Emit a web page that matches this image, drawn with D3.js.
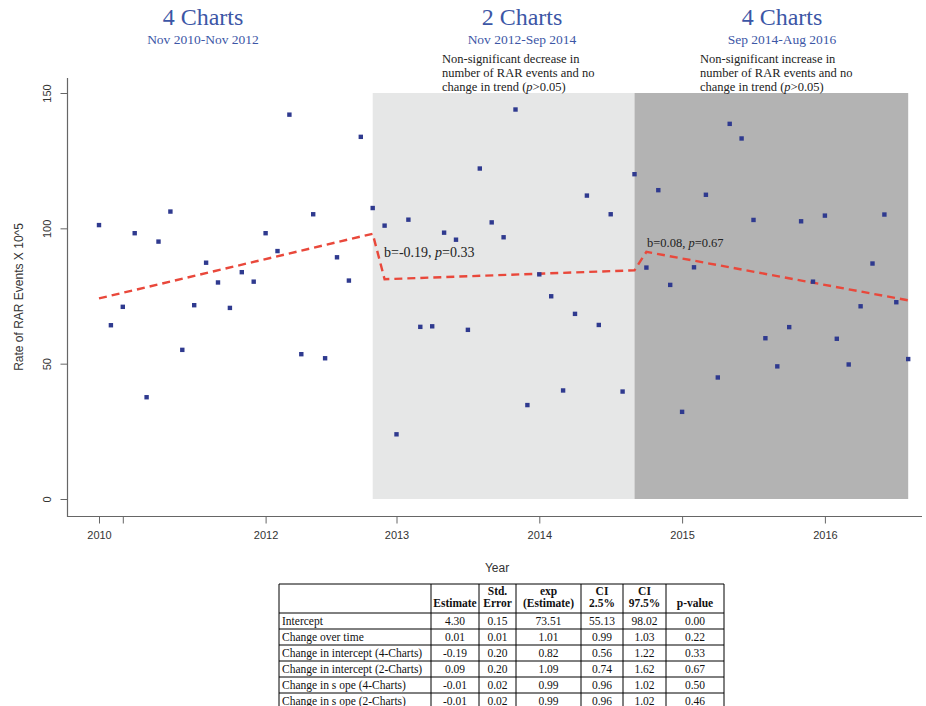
<!DOCTYPE html>
<html>
<head>
<meta charset="utf-8">
<script src="https://cdn.jsdelivr.net/npm/d3@7"></script>
<style>
  body { margin: 0; background: #fff; }
  svg { display: block; }
</style>
</head>
<body>
<div id="chart"></div>
<script>
// monthly rate of RAR events x 10^5 (month index 0 = Nov 2010)
const rates = [
  101.2, 64.2, 71.0, 98.2, 37.6, 95.1, 106.2, 55.1, 71.6, 87.3, 80.0, 70.6,
  83.8, 80.3, 98.2, 91.6, 142.0, 53.5, 105.2, 52.0, 89.3, 80.7, 133.8, 107.5,
  101.0, 23.9, 103.2, 63.6, 63.8, 98.4, 95.8, 62.5, 122.1, 102.2, 96.7, 143.9,
  34.7, 83.0, 74.9, 40.1, 68.4, 112.1, 64.3, 105.2, 39.7, 120.0,
  85.5, 114.1, 79.1, 32.2, 85.6, 112.4, 44.9, 138.6, 133.2, 103.1, 59.4, 49.0,
  63.5, 102.6, 80.3, 104.7, 59.2, 49.7, 71.2, 87.0, 105.1, 72.7, 51.7
]
// fitted segmented regression (start/end month, start/end value)
const trendMonths = [[0, 23], [24, 45], [46, 68]]
const trendValues = [[74.1, 98.0], [81.2, 84.5], [91.3, 73.4]]
// shaded periods
const shadeMonths = [[23, 45], [45, 68]]
const shadeColors = ["#e6e7e7", "#b3b3b3"]

const xTickMonths = [0, 2, 14, 25, 37, 49, 61]
const xTickLabels = ["2010", "", "2012", "2013", "2014", "2015", "2016"]
const yTicks = [0, 50, 100, 150]

const periodTitles = ["4 Charts", "2 Charts", "4 Charts"]
const periodDates = ["Nov 2010-Nov 2012", "Nov 2012-Sep 2014", "Sep 2014-Aug 2016"]
const notes = [
  ["Non-significant decrease in", "number of RAR events and no", "change in trend"],
  ["Non-significant increase in", "number of RAR events and no", "change in trend"]
]
const trendLabels = [["b=-0.19, ", "0.33"], ["b=0.08, ", "0.67"]]

const tableHead = [["", ""], ["", "Estimate"], ["Std.", "Error"], ["exp", "(Estimate)"], ["CI", "2.5%"], ["CI", "97.5%"], ["", "p-value"]]
const rowLabels = ["Intercept", "Change over time", "Change in intercept (4-Charts)",
  "Change in intercept (2-Charts)", "Change in s ope (4-Charts)", "Change in s ope (2-Charts)"]
const estimate = ["4.30", "0.01", "-0.19", "0.09", "-0.01", "-0.01"]
const stdError = ["0.15", "0.01", "0.20", "0.20", "0.02", "0.02"]
const expEst = ["73.51", "1.01", "0.82", "1.09", "0.99", "0.99"]
const ciLow = ["55.13", "0.99", "0.56", "0.74", "0.96", "0.96"]
const ciHigh = ["98.02", "1.03", "1.22", "1.62", "1.02", "1.02"]
const pValue = ["0.00", "0.22", "0.33", "0.67", "0.50", "0.46"]

const width = 926
const height = 706
const serif = "'Liberation Serif', 'DejaVu Serif', serif"
const sans = "'Liberation Sans', Arial, sans-serif"

const svg = d3.select("#chart").append("svg")
  .attr("width", width)
  .attr("height", height)
  .attr("viewBox", [0, 0, width, height])

const x = d3.scaleLinear().domain([0, 68]).range([99, 908.2])
const y = d3.scaleLinear().domain([0, 150]).range([499, 93])

// shaded periods
svg.append("g").selectAll("rect")
  .data(shadeMonths)
  .join("rect")
  .attr("x", d => x(d[0]))
  .attr("y", y(150))
  .attr("width", d => x(d[1]) - x(d[0]))
  .attr("height", y(0) - y(150))
  .attr("fill", (d, i) => shadeColors[i])

// L-shaped box
svg.append("path")
  .attr("d", `M67.5,78V516.5H922`)
  .attr("fill", "none")
  .attr("stroke", "#666")
  .attr("stroke-width", 1.2)

// y axis, labels rotated like R's default
const yAxis = svg.append("g")
  .attr("transform", "translate(67.5,0)")
  .call(d3.axisLeft(y).tickValues(yTicks).tickSize(7))
yAxis.select(".domain").remove()
yAxis.selectAll("line").attr("stroke", "#666")
yAxis.selectAll("text")
  .attr("font-family", sans).attr("font-size", 11).attr("fill", "#333")
  .attr("x", 0).attr("y", 0).attr("dy", "0.35em")
  .attr("text-anchor", "middle")
  .attr("transform", "translate(-20,0) rotate(-90)")

// x axis
const xAxis = svg.append("g")
  .attr("transform", "translate(0,516.5)")
  .call(d3.axisBottom(x).tickValues(xTickMonths).tickSize(7).tickPadding(8)
    .tickFormat((d, i) => xTickLabels[i]))
xAxis.select(".domain").remove()
xAxis.selectAll("line").attr("stroke", "#666")
xAxis.selectAll("text")
  .attr("font-family", sans).attr("font-size", 11).attr("fill", "#333")

svg.append("text")
  .attr("x", 497).attr("y", 572)
  .attr("text-anchor", "middle")
  .attr("font-family", sans).attr("font-size", 12).attr("fill", "#333")
  .text("Year")

svg.append("text")
  .attr("transform", `translate(23,297) rotate(-90)`)
  .attr("text-anchor", "middle")
  .attr("font-family", sans).attr("font-size", 12).attr("fill", "#333")
  .text("Rate of RAR Events X 10^5")

// trend line
const trendPts = trendMonths.flatMap((m, i) => [[m[0], trendValues[i][0]], [m[1], trendValues[i][1]]])
svg.append("path")
  .datum(trendPts)
  .attr("d", d3.line().x(d => x(d[0])).y(d => y(d[1])))
  .attr("fill", "none")
  .attr("stroke", "#e9483b")
  .attr("stroke-width", 2.4)
  .attr("stroke-dasharray", "8,5")

// points
svg.append("g").selectAll("rect")
  .data(rates)
  .join("rect")
  .attr("x", (d, i) => x(i) - 2.2)
  .attr("y", d => y(d) - 2.2)
  .attr("width", 4.4)
  .attr("height", 4.4)
  .attr("fill", "#2f3a8f")

// trend labels
const trendLabelPos = [[384, 257, 14], [647, 247, 12.5]]
trendLabels.forEach((t, i) => {
  const [tx, ty, fs] = trendLabelPos[i]
  const txt = svg.append("text")
    .attr("x", tx).attr("y", ty)
    .attr("font-family", serif).attr("font-size", fs).attr("fill", "#222")
  txt.append("tspan").text(t[0])
  txt.append("tspan").attr("font-style", "italic").text("p")
  txt.append("tspan").text("=" + t[1])
})

// period titles
const titleX = [203, 522, 782]
periodTitles.forEach((t, i) => {
  svg.append("text")
    .attr("x", titleX[i]).attr("y", 25)
    .attr("text-anchor", "middle")
    .attr("font-family", serif).attr("font-size", 24).attr("fill", "#3c56a6")
    .text(t)
  svg.append("text")
    .attr("x", titleX[i]).attr("y", 44)
    .attr("text-anchor", "middle")
    .attr("font-family", serif).attr("font-size", 13.5).attr("fill", "#3c56a6")
    .text(periodDates[i])
})

// notes
const noteX = [442, 700]
notes.forEach((lines, i) => {
  lines.forEach((l, j) => {
    const txt = svg.append("text")
      .attr("x", noteX[i]).attr("y", 63 + j * 14)
      .attr("font-family", serif).attr("font-size", 12.5).attr("fill", "#222")
      .text(l)
    if (j === 2) {
      txt.append("tspan").text(" (")
      txt.append("tspan").attr("font-style", "italic").text("p")
      txt.append("tspan").text(">0.05)")
    }
  })
})

// table
const colX = [279, 431, 479, 516, 581, 623, 666, 724]
const headTop = 584
const headBottom = 613
const rowH = 16
const columns = [rowLabels, estimate, stdError, expEst, ciLow, ciHigh, pValue]
const table = svg.append("g").attr("font-family", serif).attr("fill", "#111")

const rowEdges = d3.range(rowLabels.length + 1).map(k => headBottom + k * rowH)
table.selectAll("line.h")
  .data([headTop, ...rowEdges])
  .join("line")
  .attr("x1", colX[0]).attr("x2", colX[colX.length - 1])
  .attr("y1", d => d).attr("y2", d => d)
  .attr("stroke", "#000").attr("stroke-width", 1)
table.selectAll("line.v")
  .data(colX)
  .join("line")
  .attr("x1", d => d).attr("x2", d => d)
  .attr("y1", headTop).attr("y2", rowEdges[rowEdges.length - 1])
  .attr("stroke", "#000").attr("stroke-width", 1)

tableHead.forEach((h, c) => {
  const cx = (colX[c] + colX[c + 1]) / 2
  h.forEach((t, k) => {
    table.append("text")
      .attr("x", cx).attr("y", 595 + k * 12)
      .attr("text-anchor", "middle")
      .attr("font-weight", "bold").attr("font-size", 11.5)
      .text(t)
  })
})

columns.forEach((col, c) => {
  col.forEach((v, r) => {
    table.append("text")
      .attr("x", c === 0 ? colX[0] + 3 : (colX[c] + colX[c + 1]) / 2)
      .attr("y", headBottom + r * rowH + 12)
      .attr("text-anchor", c === 0 ? "start" : "middle")
      .attr("font-size", 11.5)
      .text(v)
  })
})
</script>
</body>
</html>
